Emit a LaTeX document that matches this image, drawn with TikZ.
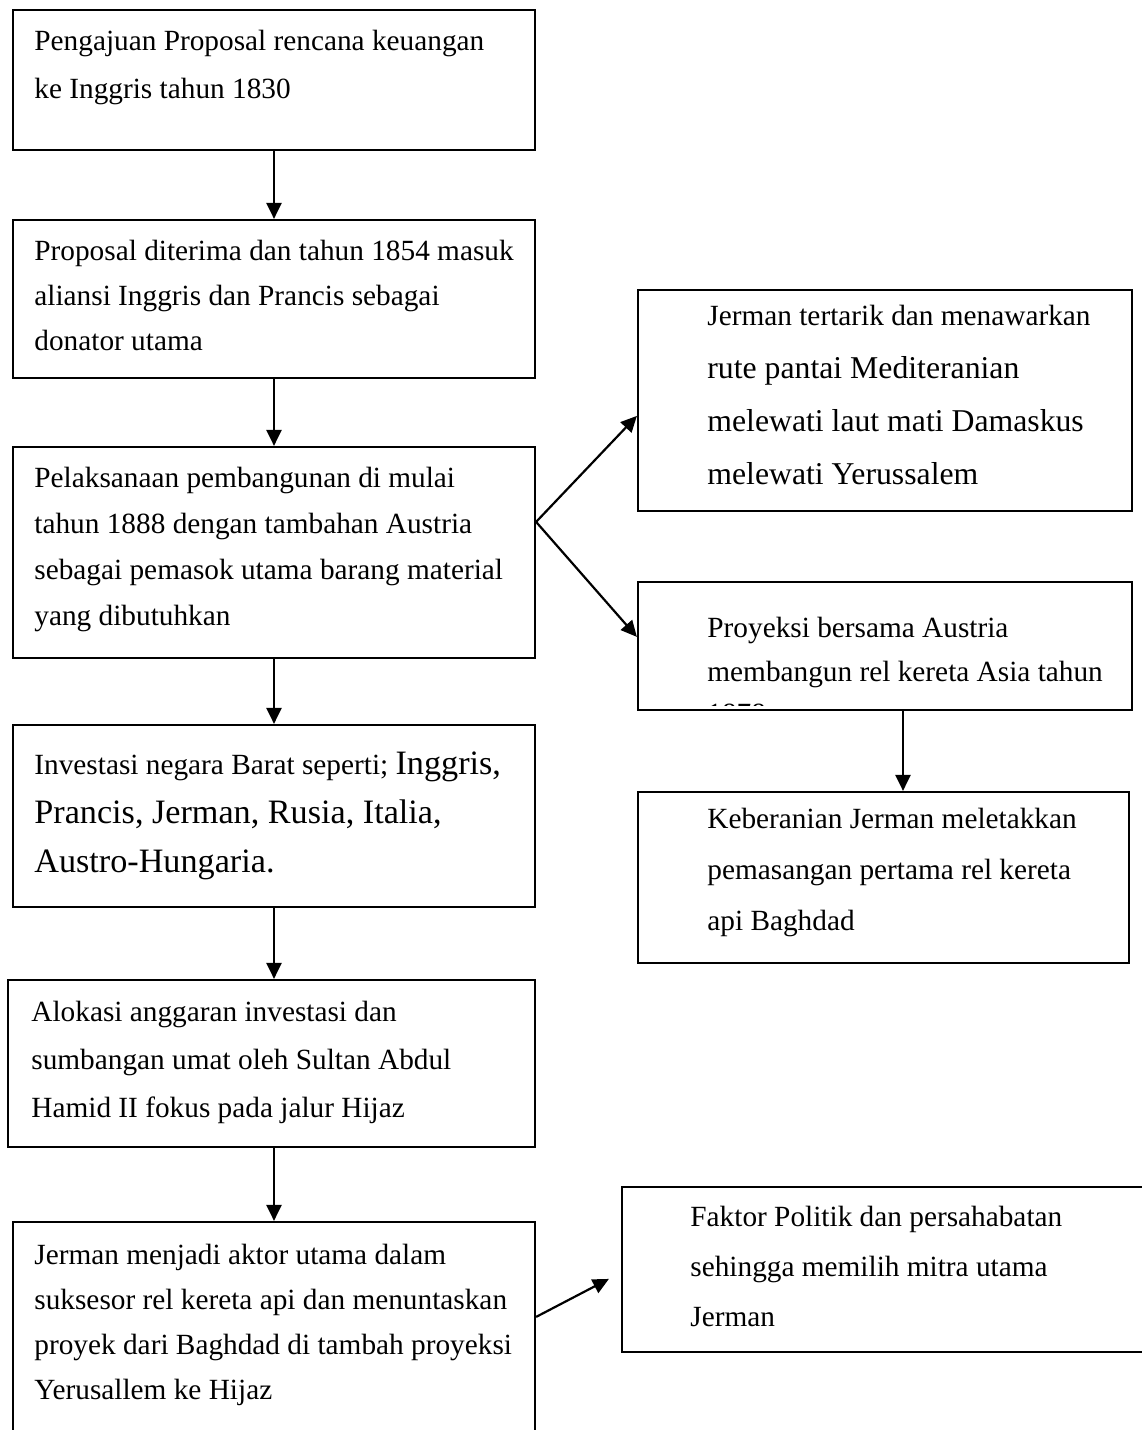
\documentclass[tikz,border=0pt]{standalone}
\usepackage{fontspec}
\setmainfont{Liberation Serif}
\usetikzlibrary{arrows.meta,fit,calc}
\newcommand{\basefont}{\fontsize{14.65}{23}\selectfont}
\begin{document}
\begin{tikzpicture}[x=0.5pt,y=-0.5pt,
  box/.style={draw=black, line width=1.1pt, inner sep=0pt, fill=white},
  txt/.style={anchor=north west, inner sep=0pt, align=left},
  arr/.style={line width=1.1pt, -{Triangle[length=8pt,width=7.5pt]}}]
\useasboundingbox (0,0) rectangle (1141,1430);
\fill[white] (0,0) rectangle (1141,1430);

% left column boxes
\node[box, fit={(13,10) (535,150)}] (b1) {};
\node[box, fit={(13,220) (535,378)}] (b2) {};
\node[box, fit={(13,447) (535,658)}] (b3) {};
\node[box, fit={(13,725) (535,907)}] (b4) {};
\node[box, fit={(8,980) (535,1147)}] (b5) {};
\node[box, fit={(13,1222) (535,1450)}] (b6) {};

% right column boxes
\node[box, fit={(638,290) (1132,511)}] (r1) {};
\node[box, fit={(638,582) (1132,710)}] (r2) {};
\node[box, fit={(638,792) (1129,963)}] (r3) {};
\node[box, fit={(622,1187) (1160,1352)}] (r4) {};

% texts
\node[txt, font=\fontsize{14.65}{24}\selectfont] (t1) at (34,29) {\rule{0pt}{10.5pt}Pengajuan Proposal rencana keuangan\\ke Inggris tahun 1830};
\node[txt, font=\fontsize{14.65}{22.5}\selectfont] (t2) at (34,239) {\rule{0pt}{10.5pt}Proposal diterima dan tahun 1854 masuk\\aliansi Inggris dan Prancis sebagai\\donator utama};
\node[txt, font=\fontsize{14.65}{23}\selectfont] (t3) at (34,466) {\rule{0pt}{10.5pt}Pelaksanaan pembangunan di mulai\\tahun 1888 dengan tambahan Austria\\sebagai pemasok utama barang material\\yang dibutuhkan};
\node[txt, font=\fontsize{17.09}{24.5}\selectfont] (t4) at (34,750) {\rule{0pt}{12pt}{\basefont Investasi negara Barat seperti; }Inggris,\\Prancis, Jerman, Rusia, Italia,\\Austro-Hungaria.};
\node[txt, font=\fontsize{14.65}{24}\selectfont] (t5) at (31,1000) {\rule{0pt}{10.5pt}Alokasi anggaran investasi dan\\sumbangan umat oleh Sultan Abdul\\Hamid II fokus pada jalur Hijaz};
\node[txt, font=\fontsize{14.65}{22.5}\selectfont] (t6) at (34,1243) {\rule{0pt}{10.5pt}Jerman menjadi aktor utama dalam\\suksesor rel kereta api dan menuntaskan\\proyek dari Baghdad di tambah proyeksi\\Yerusallem ke Hijaz};

\node[txt, font=\fontsize{15.87}{26.5}\selectfont] (u1) at (707,304) {\rule{0pt}{10.5pt}{\basefont Jerman tertarik dan menawarkan}\\rute pantai Mediteranian\\melewati laut mati Damaskus\\melewati Yerussalem};
\node[txt, font=\fontsize{14.65}{22}\selectfont] (u2) at (707,616) {\rule{0pt}{10.5pt}Proyeksi bersama Austria\\membangun rel kereta Asia tahun};
\begin{scope}
  \clip (640,584) rectangle (1130,705);
  \node[anchor=base west, inner sep=0pt, font=\basefont] (u2c) at (707,723) {1878};
\end{scope}
\node[txt, font=\fontsize{14.65}{25.5}\selectfont] (u3) at (707,807) {\rule{0pt}{10.5pt}Keberanian Jerman meletakkan\\pemasangan pertama rel kereta\\api Baghdad};
\node[txt, font=\fontsize{14.65}{25}\selectfont] (u4) at (690,1205) {\rule{0pt}{10.5pt}Faktor Politik dan persahabatan\\sehingga memilih mitra utama\\Jerman};

% vertical arrows
\draw[arr] (b1.south -| 274,0) -- (b2.north -| 274,0);
\draw[arr] (b2.south -| 274,0) -- (b3.north -| 274,0);
\draw[arr] (b3.south -| 274,0) -- (b4.north -| 274,0);
\draw[arr] (b4.south -| 274,0) -- (b5.north -| 274,0);
\draw[arr] (b5.south -| 274,0) -- (b6.north -| 274,0);
\draw[arr] (r2.south -| 903,0) -- (r3.north -| 903,0);

% branching arrows
\coordinate (fork) at ($(b3.north east)+(0,76)$);
\draw[arr] (fork) -- ($(r1.north west)+(0,127)$);
\draw[arr] (fork) -- ($(r2.north west)+(0,56)$);
\coordinate (r4tip) at ($(r4.north west)+(-12,93)$);
\draw[arr] ($(b6.north east)+(0,96)$) -- (r4tip);
\end{tikzpicture}
\end{document}
